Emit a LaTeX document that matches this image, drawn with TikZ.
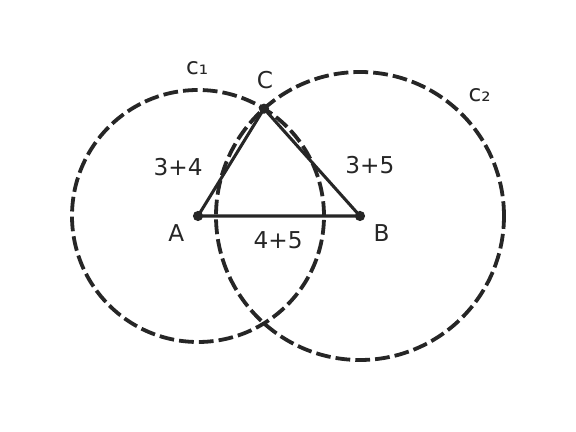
\documentclass[tikz,border=0pt]{standalone}
\usepackage{fontspec}
\setmainfont{DejaVu Sans}
\usepackage{xcolor}
\usepackage{tikz}
\usetikzlibrary{positioning, calc}
\definecolor{ink}{HTML}{262626}
\tikzstyle{circ} = [draw=ink, line width=3.6pt, dash pattern=on 14pt off 4.8pt]
\tikzstyle{side} = [draw=ink, line width=2.9pt]
\tikzstyle{pt} = [circle, fill=ink, inner sep=0pt, minimum size=0.34cm]
\tikzstyle{lbl} = [text=ink, font=\fontsize{22}{26}\selectfont, inner sep=0pt]

\begin{document}
\begin{tikzpicture}[x=0.6cm, y=0.6cm]
        \useasboundingbox (-11,-12) rectangle (21,12);
        \fill[white] (-11,-12) rectangle (21,12);
        % points, sides 7, 8 and 9
        \coordinate (A) at (0,0);
        \coordinate (B) at (9,0);
        \coordinate (C) at (3.667,5.963);

        \draw[circ] (A) circle (7);
        \draw[circ] (B) circle (8);

        \draw[side] (A) -- (B) -- (C) -- cycle;
        \node (pA) [pt] at (A) {};
        \node (pB) [pt] at (B) {};
        \node (pC) [pt] at (C) {};

        \node (lA) [lbl] at ($(A)+(-1.2,-0.95)$) {A};
        \node (lB) [lbl] at ($(B)+(1.2,-0.95)$) {B};
        \node (lC) [lbl] at ($(C)+(0.05,1.6)$) {C};
        \node (c1) [lbl] at (-0.05,8.2) {c₁};
        \node (c2) [lbl] at (15.65,6.7) {c₂};

        \node (sAC) [lbl] at (-1.1,2.72) {3+4};
        \node (sBC) [lbl] at (9.55,2.83) {3+5};
        \node (sAB) [lbl] at (4.45,-1.33) {4+5};
    \end{tikzpicture}
\end{document}
